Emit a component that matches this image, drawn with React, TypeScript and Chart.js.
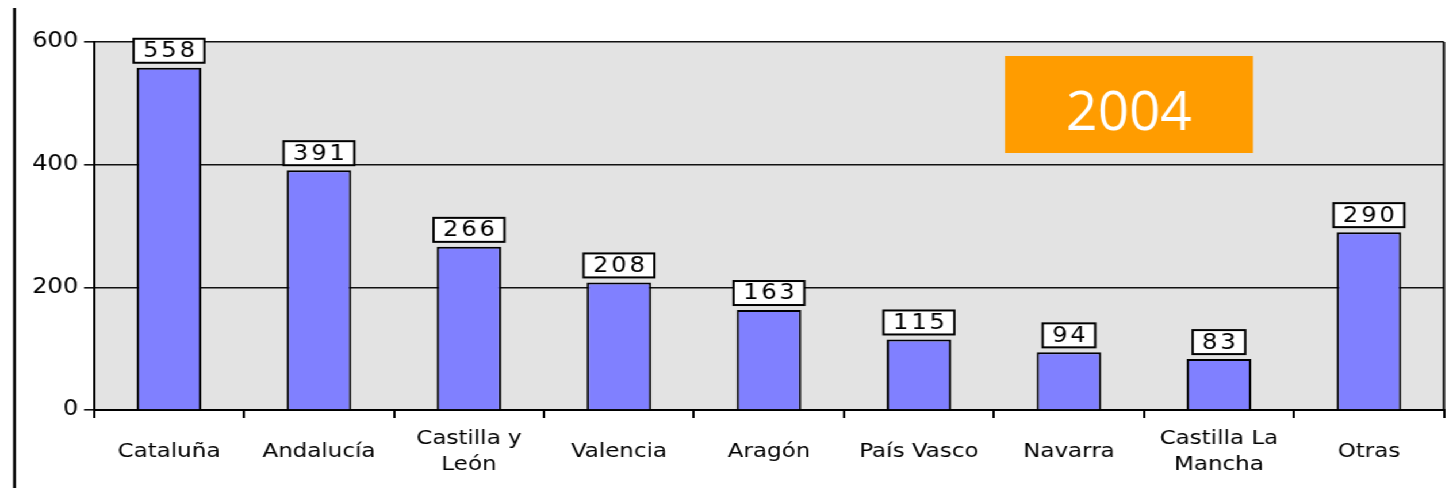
import React, { useEffect, useRef } from 'react';
import { Chart, registerables } from 'chart.js';

Chart.register(...registerables);

const categories: (string | string[])[] = [
  'Cataluña',
  'Andalucía',
  ['Castilla y', 'León'],
  'Valencia',
  'Aragón',
  'País Vasco',
  'Navarra',
  ['Castilla La', 'Mancha'],
  'Otras',
];
const values = [558, 391, 266, 208, 163, 115, 94, 83, 290];
const yTicks = [0, 200, 400, 600];
const yearLabel = '2004';

const SX = 1.15;
const W = 1454 / SX;

const decor = {
  id: 'decor',
  beforeDraw(chart: any) {
    const { ctx, chartArea: a } = chart;
    ctx.save();
    ctx.fillStyle = '#e3e3e3';
    ctx.fillRect(a.left, a.top, a.right - a.left, a.bottom - a.top);
    ctx.restore();
  },
  afterDatasetsDraw(chart: any) {
    const { ctx, chartArea: a } = chart;
    ctx.save();
    // right border
    ctx.strokeStyle = '#000';
    ctx.lineWidth = 2;
    ctx.beginPath();
    ctx.moveTo(a.right, a.top);
    ctx.lineTo(a.right, a.bottom);
    ctx.stroke();
    // page left line
    ctx.lineWidth = 2.5;
    ctx.beginPath();
    ctx.moveTo(14.5 / SX, 8);
    ctx.lineTo(14.5 / SX, 488);
    ctx.stroke();

    // value labels
    const meta = chart.getDatasetMeta(0);
    ctx.font = '21px "DejaVu Sans"';
    (ctx as any).letterSpacing = '2.5px';
    ctx.textAlign = 'center';
    ctx.textBaseline = 'middle';
    meta.data.forEach((bar: any, i: number) => {
      const txt = String(values[i]);
      const tw = ctx.measureText(txt).width;
      const bw = tw + 14;
      const bh = 24;
      const bottom = bar.y - 5;
      const x0 = bar.x - bw / 2;
      ctx.fillStyle = '#fff';
      ctx.fillRect(x0, bottom - bh, bw, bh);
      ctx.lineWidth = 2;
      ctx.strokeStyle = '#000';
      ctx.strokeRect(x0, bottom - bh, bw, bh);
      ctx.fillStyle = '#000';
      ctx.fillText(txt, bar.x + 1.25, bottom - bh / 2 + 1);
    });
    (ctx as any).letterSpacing = '0px';

    // orange year box
    ctx.fillStyle = '#ff9c00';
    ctx.fillRect(1005 / SX, 56, (1253 - 1005) / SX, 97);
    ctx.translate(1129 / SX, 130);
    ctx.scale(1 / SX, 1);
    ctx.fillStyle = '#fff';
    ctx.font = '55px "Open Sans"';
    ctx.textAlign = 'center';
    ctx.textBaseline = 'alphabetic';
    ctx.fillText(yearLabel, 0, 0);
    ctx.restore();
  },
};

export default function App() {
  const ref = useRef<HTMLCanvasElement | null>(null);
  useEffect(() => {
    if (!ref.current) return;
    const chart = new Chart(ref.current, {
      type: 'bar',
      data: {
        labels: categories as any,
        datasets: [
          {
            data: values,
            backgroundColor: '#8080ff',
            borderColor: '#000',
            borderWidth: 2,
            borderSkipped: 'bottom',
            categoryPercentage: 1,
            barPercentage: 0.43,
          },
        ],
      },
      options: {
        animation: false,
        responsive: true,
        maintainAspectRatio: false,
        layout: { padding: { top: 42, right: W - 1444 / SX, left: 0, bottom: 0 } },
        plugins: { legend: { display: false }, tooltip: { enabled: false } },
        scales: {
          x: {
            offset: true,
            grid: {
              offset: true,
              drawOnChartArea: false,
              drawTicks: true,
              tickLength: 8,
              color: '#000',
              lineWidth: 2,
            },
            border: { color: '#000', width: 2 },
            ticks: {
              font: { family: '"DejaVu Sans"', size: 20, lineHeight: '26px' },
              color: '#000',
              padding: 21,
              maxRotation: 0,
              autoSkip: false,
              crossAlign: 'center',
            },
            afterFit: (s: any) => {
              s.height = 78;
            },
          },
          y: {
            min: 0,
            max: 600,
            afterBuildTicks: (s: any) => {
              s.ticks = yTicks.map((v) => ({ value: v }));
            },
            grid: {
              color: '#111',
              lineWidth: 1.6,
              tickLength: 10 / SX,
            },
            border: { color: '#000', width: 2 },
            ticks: {
              font: { family: '"DejaVu Sans"', size: 21 },
              color: '#000',
              padding: 5,
            },
            afterFit: (s: any) => {
              s.width = 94 / SX;
            },
          },
        },
      },
      plugins: [decor],
    });
    return () => chart.destroy();
  }, []);
  return (
    <div
      style={{
        position: 'absolute',
        left: 0,
        top: 0,
        width: W + 'px',
        height: '488px',
        transform: `scaleX(${SX})`,
        transformOrigin: '0 0',
        background: '#fff',
      }}
    >
      <canvas ref={ref} />
    </div>
  );
}
